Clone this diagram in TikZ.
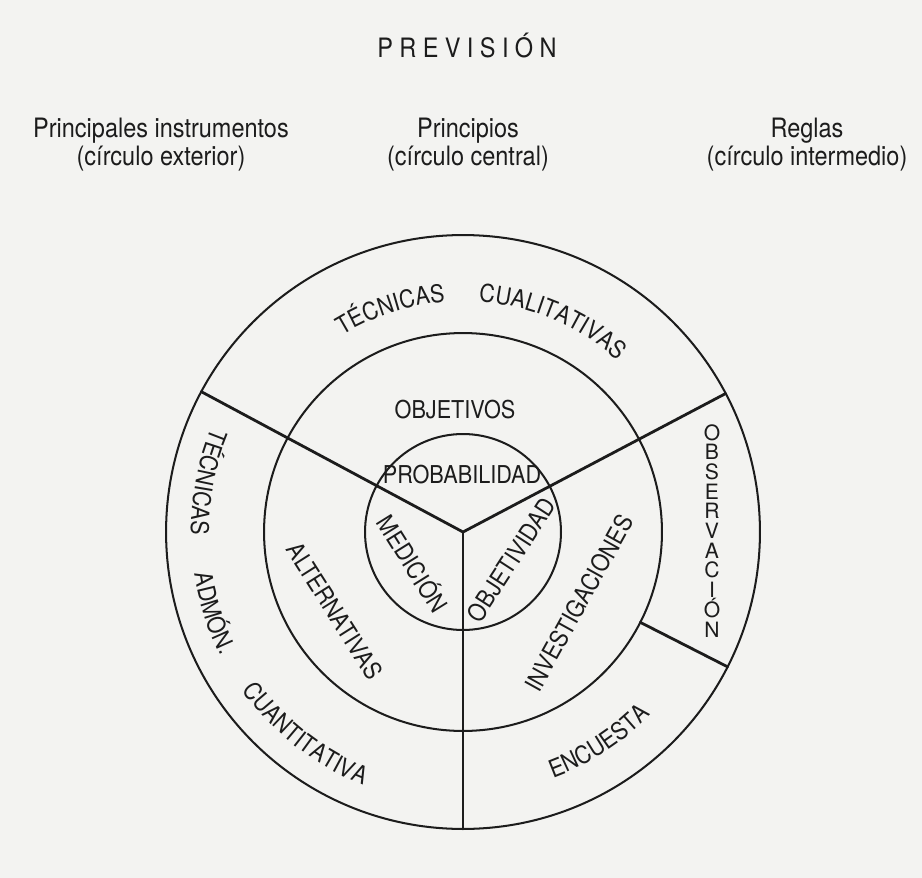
\documentclass[tikz,border=0pt]{standalone}
\usepackage{fontspec}
\setmainfont{TeX Gyre Heros}
\newfontfamily\headfont{TeX Gyre Heros}[FakeStretch=0.88]
\newfontfamily\labfam{TeX Gyre Heros}[FakeStretch=0.88]
\usetikzlibrary{calc,decorations.text}
\definecolor{ink}{HTML}{1C1C1C}
\definecolor{paper}{HTML}{F3F3F1}
\newcommand\labfont{\labfam\fontsize{14}{16}\selectfont}
% a word set along an arc about the centre (c): text, start angle, end angle, radius
\newcommand\ringword[4]{\path[wordarc={#1}] ($(c)+(#2:#4)$) arc[start angle=#2,end angle=#3,radius=#4];}

\begin{document}
\begin{tikzpicture}[x=0.02cm,y=0.02cm,
  ring/.style={draw=ink,line width=1.15pt},
  spoke/.style={draw=ink,line width=1.6pt,line cap=round},
  head/.style={text=ink,align=center,inner sep=0pt,font=\headfont\fontsize{15.2}{16}\selectfont},
  lab/.style={text=ink,inner sep=0pt,font=\labfont},
  stackletter/.style={text=ink,inner sep=0pt,anchor=base,font=\fontsize{12}{14}\selectfont},
  wordarc/.style={decorate,decoration={text along path,text align=center,text color=ink,text={|\labfont|#1}}},
]
\fill[paper] (0,0) rectangle (922,-878);
\useasboundingbox (0,0) rectangle (922,-878);

% headings
\node[head] (prev) at (467,-46) {\addfontfeature{LetterSpace=24}PREVISIÓN};
\node[head] (inst) at (161,-145) {Principales instrumentos\\(círculo exterior)};
\node[head] (prin) at (468,-145) {Principios\\(círculo central)};
\node[head] (regl) at (807,-145) {Reglas\\(círculo intermedio)};

% centre of the rings
\coordinate (c) at (463,-532);

% three concentric rings
\draw[ring] (c) circle[radius=5.94cm];
\draw[ring] (c) circle[radius=3.98cm];
\draw[ring] (c) circle[radius=1.96cm];

% spokes dividing the rings
\coordinate (ul) at ($(c)+(151.8:5.94cm)$);
\coordinate (ur) at ($(c)+(27.8:5.94cm)$);
\coordinate (dn) at ($(c)+(270:5.94cm)$);
\coordinate (sa) at ($(c)+(-27:3.98cm)$);
\coordinate (sb) at ($(c)+(-27:5.94cm)$);
\draw[spoke,line join=miter] (ul) -- (c) -- (ur);
\draw[spoke] (c) -- (dn);
\draw[spoke] (sa) -- (sb);

% outer ring: words along the arcs
\ringword{TÉCNICAS}{128}{88}{4.62cm}
\ringword{CUALITATIVAS}{93}{41}{4.62cm}
\ringword{TÉCNICAS}{149}{189}{5.44cm}
\ringword{ADMÓN.}{183}{213}{5.44cm}
\ringword{CUANTITATIVA}{205}{259}{5.44cm}
\ringword{ENCUESTA}{-77}{-37}{5.24cm}

% stacked letters in the right-hand sector
\foreach \l [count=\i] in {O,B,S,E,R,V,A,C,I,Ó,N}
  \node[stackletter] (obs\i) at (712,{-440-(\i-1)*19.7}) {\l};

% middle and inner rings
\node[lab] (objv) at (455,-410) {OBJETIVOS};
\node[lab] (prob) at (462,-475) {PROBABILIDAD};
\node[lab,rotate=-58] (med) at (414,-563) {MEDICIÓN};
\node[lab,rotate=57] (objd) at (511,-560) {OBJETIVIDAD};
\node[lab,rotate=-57.6] (alt) at (335,-611) {ALTERNATIVAS};
\node[lab,rotate=61] (inv) at (579,-603) {INVESTIGACIONES};
\end{tikzpicture}
\end{document}
